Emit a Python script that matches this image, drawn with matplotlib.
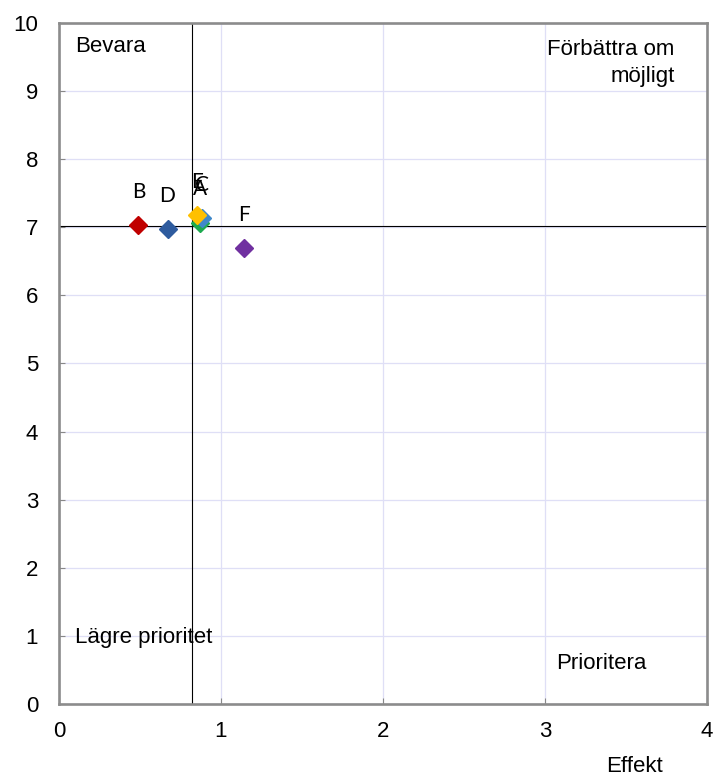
import matplotlib.pyplot as plt
from matplotlib.ticker import MultipleLocator

# Data
names = ['A', 'B', 'C', 'D', 'E', 'F']
effekt = [0.87, 0.49, 0.88, 0.67, 0.85, 1.14]
betyg = [7.07, 7.04, 7.14, 6.97, 7.18, 6.69]
colors = ['#1daa4f', '#c00000', '#3f88c9', '#2e5b9e', '#ffc000', '#7030a0']

x_line = 0.82
y_line = 7.02

plt.rcParams['font.family'] = ['Liberation Sans', 'DejaVu Sans']

fig = plt.figure(figsize=(7.15, 7.76), dpi=100)
ax = fig.add_axes([0.0825, 0.0928, 0.9063, 0.8776])

ax.grid(True, color='#dfdff6', linewidth=0.9)
ax.set_axisbelow(True)

ax.axvline(x_line, color='black', linewidth=0.8, zorder=2)
ax.axhline(y_line, color='black', linewidth=0.8, zorder=2)

for n, x, y, c in zip(names, effekt, betyg, colors):
    ax.plot(x, y, marker='D', markersize=9, color=c, linestyle='none', zorder=3)

# point labels sit a fixed distance above each marker (E and C overlap as in the original)
for n, x, y in zip(names, effekt, betyg):
    ax.text(x, y + 0.485, n, ha='center', va='center', fontsize=15,
            family=['Lato', 'DejaVu Sans'], zorder=4)

ax.set_xlim(0, 4)
ax.set_ylim(0, 10)
ax.xaxis.set_major_locator(MultipleLocator(1))
ax.yaxis.set_major_locator(MultipleLocator(1))
ax.tick_params(labelsize=16, length=4, color='#888888', direction='in')
ax.tick_params(axis='x', pad=12)
ax.tick_params(axis='y', pad=15)

for s in ax.spines.values():
    s.set_color('#8c8c8c')
    s.set_linewidth(1.9)

ax.text(0.1, 9.65, 'Bevara', fontsize=16, va='center')
ax.text(3.80, 9.41, 'Förbättra om\nmöjligt', fontsize=16, ha='right',
        va='center', linespacing=1.35)
ax.text(0.1, 0.97, 'Lägre prioritet', fontsize=16, va='center')
ax.text(3.07, 0.6, 'Prioritera', fontsize=16, va='center')

fig.text(0.888, 0.0055, 'Effekt', fontsize=16, ha='center', va='baseline')

plt.savefig('out.png', dpi=100)
